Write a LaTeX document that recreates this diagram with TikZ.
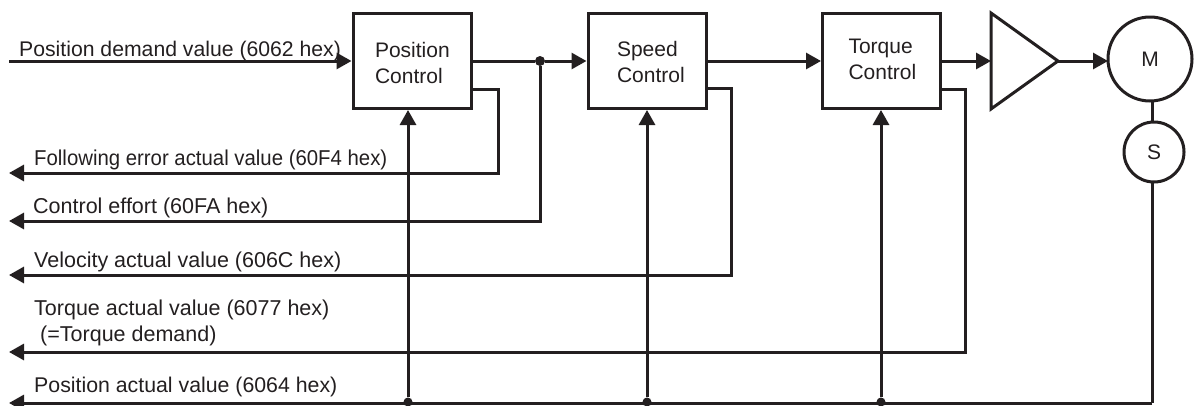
\documentclass[tikz,border=0pt]{standalone}
\usepackage{fontspec}
\setmainfont{Liberation Sans}
\usetikzlibrary{arrows.meta,calc}
\definecolor{ink}{HTML}{231F20}
\newcommand{\boxline}[3]{\hspace*{#1pt}\raisebox{#2pt}[0pt][0pt]{#3}}
\newcommand{\labsize}[1]{\fontsize{#1pt}{25pt}\selectfont}
\tikzset{
  blockbox/.style={draw=ink,line width=3pt,minimum width=118pt,minimum height=95pt,inner sep=0pt,text width=118pt,align=left,text=ink,font=\fontsize{21pt}{26pt}\selectfont},
  roundbox/.style={circle,draw=ink,line width=3pt,inner sep=0pt,text=ink,font=\fontsize{21pt}{25pt}\selectfont},
  wire/.style={draw=ink,line width=3pt},
  flow/.style={wire,-{Triangle[length=15pt,width=16pt,fill=ink]}},
  lab/.style={anchor=base west,inner sep=0pt,text=ink},
  joint/.style={circle,fill=ink,inner sep=0pt,minimum size=10pt}
}
\begin{document}
\begin{tikzpicture}[x=1pt,y=-1pt]
\useasboundingbox (0,0) rectangle (1194,405);
\node[blockbox] (pos) at (412,61) {\boxline{22}{-9}{Position}\\\boxline{22}{-9}{Control}};
\node[blockbox] (spd) at (647,61) {\boxline{29}{-8}{Speed}\\\boxline{29}{-8}{Control}};
\node[blockbox] (trq) at (881.5,61) {\boxline{26}{-5}{Torque}\\\boxline{26}{-5}{Control}};
\node[roundbox,minimum size=84pt] (m) at (1150,59) {M};
\node[roundbox,minimum size=60pt] (s) at (1154,152) {S};
\coordinate (a1) at (991,13); \coordinate (a2) at (991,109); \coordinate (amp) at (1058,61);
\coordinate (ampin) at (991,61);
\draw[wire,line join=miter] (a1) -- (amp) -- (a2) -- cycle;

\coordinate (in) at (9,61);
\node[joint] (j0) at (540,61) {};
\node[joint,minimum size=9pt] (j1) at (408,402) {};
\node[joint,minimum size=9pt] (j2) at (647,402) {};
\node[joint,minimum size=9pt] (j3) at (881,402) {};
\coordinate (o1) at (9,173);
\coordinate (o2) at (9,221);
\coordinate (o3) at (9,275);
\coordinate (o4) at (9,352);
\coordinate (o5) at (9,403);
\coordinate (c5) at (1152,403);

\draw[flow] (in) -- (pos.west |- in);
\draw[wire] (pos.east |- j0) -- (j0);
\draw[flow] (j0) -- (spd.west |- j0);
\draw[flow] (spd.east |- j0) -- (trq.west |- j0);
\draw[flow] (trq.east |- j0) -- (ampin);
\draw[flow] (amp) -- (1108,61);
\draw[wire] (1152,101) -- (1152,122);
\draw[wire] (1152,182) -- (c5);

\draw[flow] (c5) -- (o5);
\draw[flow] (j1) -- (j1 |- pos.south);
\draw[flow] (j2) -- (j2 |- spd.south);
\draw[flow] (j3) -- (j3 |- trq.south);

\draw[flow] (pos.east |- 0,89) -| (498,173) -- (o1);
\draw[flow] (j0) |- (o2);
\draw[flow] (spd.east |- 0,88) -| (731,275) -- (o3);
\draw[flow] (trq.east |- 0,89) -| (965,352) -- (o4);

\node[lab,font=\labsize{21.2}] (t0) at (19,56) {Position demand value (6062 hex)};
\node[lab,font=\labsize{21.5}] (t1) at (34,165) {\scalebox{.947}[1]{Following error actual value (60F4 hex)}};
\node[lab,font=\labsize{21.5}] (t2) at (33,213) {Control effort (60FA hex)};
\node[lab,font=\labsize{21.5}] (t3) at (34,267) {Velocity actual value (606C hex)};
\node[lab,font=\labsize{21.5}] (t4) at (34,315) {Torque actual value (6077 hex)};
\node[lab,font=\labsize{21.5}] (t5) at (40,341) {(=Torque demand)};
\node[lab,font=\labsize{21.3}] (t6) at (34,392) {Position actual value (6064 hex)};
\end{tikzpicture}
\end{document}
